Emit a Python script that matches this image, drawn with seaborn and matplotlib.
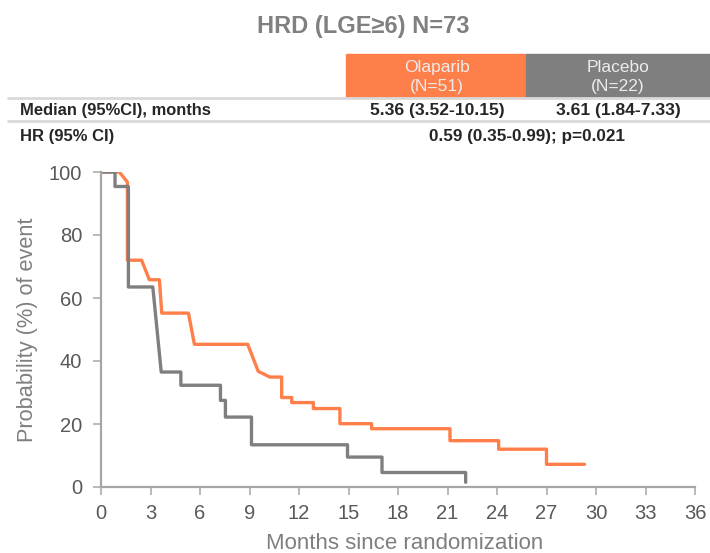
import matplotlib
matplotlib.use("Agg")
import matplotlib.pyplot as plt
import seaborn as sns
import pandas as pd

# KM curve vertices (months, % probability)
olaparib_months = [0, 1.11, 1.6, 1.6, 2.46, 2.93, 3.54, 3.68, 5.3, 5.66, 8.89, 9.53, 10.24,
                   10.95, 10.95, 11.56, 11.56, 12.87, 12.87, 14.48, 14.48, 16.4, 16.4,
                   21.15, 21.15, 24.1, 24.1, 27.0, 27.0, 29.3]
olaparib_prob = [100, 100, 96.8, 72, 72, 65.8, 65.8, 55.2, 55.2, 45.3, 45.3, 36.7, 34.9,
                 34.9, 28.4, 28.4, 26.8, 26.8, 24.9, 24.9, 20.1, 20.1, 18.5,
                 18.5, 14.7, 14.7, 12.0, 12.0, 7.2, 7.2]
placebo_months = [0, 0.85, 0.85, 1.66, 1.66, 3.14, 3.65, 4.84, 4.84, 7.24, 7.24, 7.54, 7.54,
                  9.12, 9.12, 14.94, 14.94, 17.03, 17.03, 22.1, 22.1]
placebo_prob = [100, 100, 95.4, 95.4, 63.5, 63.5, 36.5, 36.5, 32.3, 32.3, 27.5, 27.5, 22.2,
                22.2, 13.4, 13.4, 9.5, 9.5, 4.6, 4.6, 1.5]

title = "HRD (LGE\u22656) N=73"
arm_labels = ["Olaparib\n(N=51)", "Placebo\n(N=22)"]
median_label = "Median (95%CI), months"
median_values = ["5.36 (3.52-10.15)", "3.61 (1.84-7.33)"]
hr_label = "HR (95% CI)"
hr_value = "0.59 (0.35-0.99); p=0.021"
x_ticks = list(range(0, 37, 3))
y_ticks = list(range(0, 101, 20))

ORANGE = "#ff7f4a"
GREY = "#7f7f7f"

sns.set_style("white")
plt.rcParams["font.family"] = ["Liberation Sans", "DejaVu Sans"]

fig = plt.figure(figsize=(7.1, 5.53), dpi=100)
W, H = 710, 553

# header area
fig.text(363 / W, 1 - 26 / H, title, ha="center", va="center", fontsize=17,
         fontweight="bold", color="#808080")

fig.patches.append(plt.Rectangle((346 / W, 1 - 97 / H), 180 / W, 43 / H,
                                 transform=fig.transFigure, color=ORANGE, zorder=0))
fig.patches.append(plt.Rectangle((526 / W, 1 - 97 / H), 184 / W, 43 / H,
                                 transform=fig.transFigure, color=GREY, zorder=0))
for cx, lab in zip([437, 618], arm_labels):
    fig.text(cx / W, 1 - 77 / H, lab, ha="center", va="center", fontsize=12.5,
             color="#ececec", linespacing=1.4)
for yy in [98, 121]:
    fig.add_artist(plt.Line2D([8 / W, 1], [1 - yy / H, 1 - yy / H], transform=fig.transFigure,
                              color="#d9d9d9", lw=2))
fig.text(20 / W, 1 - 111 / H, median_label, ha="left", va="center", fontsize=11.9,
         fontweight="bold", color="#262626")
for cx, v in zip([437, 618], median_values):
    fig.text(cx / W, 1 - 111 / H, v, ha="center", va="center", fontsize=12.6,
             fontweight="bold", color="#262626")
fig.text(20 / W, 1 - 136 / H, hr_label, ha="left", va="center", fontsize=12,
         fontweight="bold", color="#262626")
fig.text(527 / W, 1 - 136 / H, hr_value, ha="center", va="center", fontsize=12.3,
         fontweight="bold", color="#262626")

# KM plot
ax = fig.add_axes([101 / W, 1 - 487 / H, 594 / W, 315 / H])
df_o = pd.DataFrame({"months": olaparib_months, "prob": olaparib_prob})
df_p = pd.DataFrame({"months": placebo_months, "prob": placebo_prob})
sns.lineplot(data=df_o, x="months", y="prob", sort=False, estimator=None, ax=ax,
             color=ORANGE, lw=2.4)
sns.lineplot(data=df_p, x="months", y="prob", sort=False, estimator=None, ax=ax,
             color=GREY, lw=2.4)

ax.set_xlim(0, 36)
ax.set_ylim(0, 100)
ax.set_xticks(x_ticks)
ax.set_yticks(y_ticks)
for s in ["top", "right"]:
    ax.spines[s].set_visible(False)
for s in ["left", "bottom"]:
    ax.spines[s].set_color("#a6a6a6")
    ax.spines[s].set_linewidth(1.6)
ax.tick_params(axis="both", direction="out", length=5.5, width=1.1, color="#a6a6a6",
               labelsize=14.5, labelcolor="#595959", bottom=True, left=True)
ax.tick_params(axis="x", pad=6.5)
ax.tick_params(axis="y", pad=8)
ax.set_xlabel("Months since randomization", fontsize=16, color="#7f7f7f")
ax.xaxis.set_label_coords((405 - 101) / 594, -0.146)
ax.set_ylabel("Probability (%) of event", fontsize=15.7, color="#7f7f7f", labelpad=7.5)
ax.set_facecolor("white")

fig.savefig("out.png", dpi=100)
